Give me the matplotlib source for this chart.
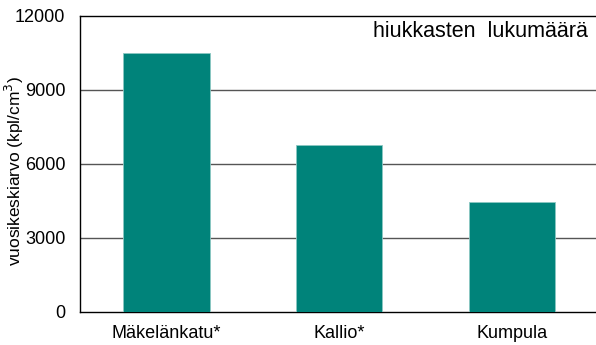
import matplotlib
matplotlib.use("Agg")
import matplotlib.pyplot as plt

categories = ["Mäkelänkatu*", "Kallio*", "Kumpula"]
values = [10500, 6780, 4450]
yticks = [0, 3000, 6000, 9000, 12000]

plt.rcParams["font.family"] = ["Liberation Sans", "DejaVu Sans"]

fig = plt.figure(figsize=(5.96, 3.45), dpi=100)
ax = fig.add_axes([80 / 596, 33.5 / 345, 518.4 / 596, 295.5 / 345])

x = range(len(categories))
ax.bar(x, values, width=0.5, color="#00837a", edgecolor="#8cc8c3",
       linewidth=0.6, zorder=3)

ax.set_xlim(-0.5, 2.5)
ax.set_ylim(0, 12000)
ax.set_yticks(yticks)
ax.set_xticks(list(x))
ax.set_xticklabels(categories)
ax.tick_params(axis="y", length=0, pad=10.5, labelsize=13)
ax.tick_params(axis="x", length=0, pad=10, labelsize=13)

for v in yticks[1:-1]:
    ax.axhline(v, color="#555555", linewidth=1.0, zorder=1)

for side in ["left", "bottom", "top"]:
    ax.spines[side].set_color("black")
    ax.spines[side].set_linewidth(1.0)
ax.spines["right"].set_visible(False)

fig.text(14.5 / 596, 1 - 171.5 / 345, "vuosikeskiarvo (kpl/cm$^3$)",
         rotation=90, ha="center", va="center", fontsize=12.5)
ax.text(0.98, 0.946, "hiukkasten  lukumäärä", transform=ax.transAxes,
        ha="right", va="center", fontsize=15.5)

fig.savefig("out.png", dpi=100)
